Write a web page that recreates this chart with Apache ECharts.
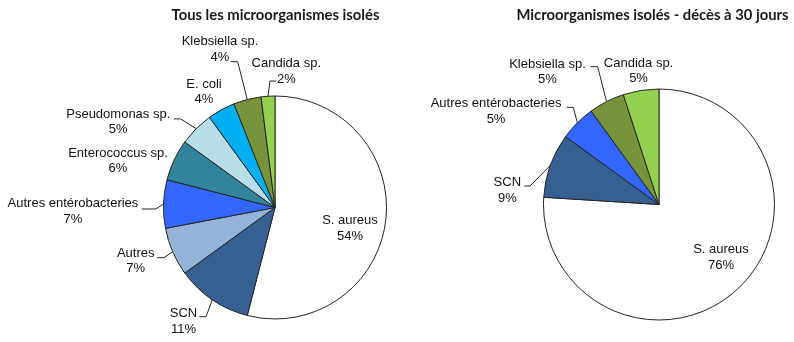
<!DOCTYPE html>
<html>
<head>
<meta charset="utf-8">
<script src="https://cdn.jsdelivr.net/npm/echarts@6/dist/echarts.min.js"></script>
<style>
  html, body { margin: 0; padding: 0; background: #ffffff; }
  #chart { width: 794px; height: 342px; }
</style>
</head>
<body>
<div id="chart"></div>
<script>
// Tous les microorganismes isolés (%)
const allNames = ['S. aureus', 'SCN', 'Autres', 'Autres entérobacteries', 'Enterococcus sp.',
                  'Pseudomonas sp.', 'E. coli', 'Klebsiella sp.', 'Candida sp.'];
const allValues = [54, 11, 7, 7, 6, 5, 4, 4, 2];
const allColors = ['#FFFFFF', '#376092', '#95B3D7', '#3366FF', '#31849B',
                   '#B7DEE8', '#00B0F0', '#77933C', '#92D050'];

// Microorganismes isolés - décès à 30 jours (%)
const deathNames = ['S. aureus', 'SCN', 'Autres entérobacteries', 'Klebsiella sp.', 'Candida sp.'];
const deathValues = [76, 9, 5, 5, 5];
const deathColors = ['#FFFFFF', '#376092', '#3366FF', '#77933C', '#92D050'];

const titleLeft = 'Tous les microorganismes isolés';
const titleRight = 'Microorganismes isolés - décès à 30 jours';

// Label placement, measured from the outer mid-arc point of each slice:
// box = label centre offset, end = leader end offset, elbow = horizontal stub length.
const allPlacement = [
  { inside: [16.7, 13.8] },
  { box: [-28.8, 21.5], end: [-13, 17], elbow: 6.7 },
  { box: [-37, 9], end: [-15.4, 5.9], elbow: 6.7 },
  { box: [-90.6, 7.2], end: [-21.9, 5], elbow: 14 },
  { box: [-56.1, 0.8] },
  { box: [-77.9, -6.9], end: [-22.2, -9.7], elbow: 6.7 },
  { box: [-17.3, -18.1] },
  { box: [-27.3, -50], end: [-16.6, -37.8], elbow: 7 },
  { box: [18.3, -24.9], end: [8, -15.2], elbow: 6 }
];
const deathPlacement = [
  { inside: [20.4, 8.7] },
  { box: [-43, 24.8], end: [-26, 20.6], elbow: 5.7 },
  { box: [-81.3, -11.6], end: [-10.6, -15.5], elbow: 6.6 },
  { box: [-59.1, -29.9], end: [-15.9, -34.9], elbow: 7 },
  { box: [-2.4, -19.6] }
];

const labelFont = 'Liberation Sans, Arial, sans-serif';

function labelPlacer(placement) {
  return function (p) {
    const cfg = placement[p.dataIndex];
    const r = p.labelRect;
    if (cfg.inside) {
      return {
        x: r.x + r.width / 2 + cfg.inside[0],
        y: r.y + r.height / 2 + cfg.inside[1],
        align: 'center', verticalAlign: 'middle'
      };
    }
    const a = p.labelLinePoints[0];
    const out = {
      x: a[0] + cfg.box[0],
      y: a[1] + cfg.box[1],
      align: 'center', verticalAlign: 'middle'
    };
    if (cfg.end) {
      const ex = a[0] + cfg.end[0];
      const ey = a[1] + cfg.end[1];
      const kx = ex + (a[0] > ex ? cfg.elbow : -cfg.elbow);
      out.labelLinePoints = [[a[0], a[1]], [kx, ey], [ex, ey]];
    } else {
      out.labelLinePoints = [[a[0], a[1]], [a[0], a[1]], [a[0], a[1]]];
    }
    return out;
  };
}

function pieSeries(names, values, colors, center, radius, placement) {
  return {
    type: 'pie',
    center: center,
    radius: radius,
    startAngle: 90,
    clockwise: true,
    avoidLabelOverlap: false,
    silent: true,
    itemStyle: { borderColor: '#262626', borderWidth: 1 },
    label: {
      show: true,
      position: 'outside',
      formatter: function (p) { return p.name + '\n' + p.value + '%'; },
      fontFamily: labelFont,
      fontSize: 13,
      lineHeight: 15.5,
      color: '#111111'
    },
    labelLine: {
      show: true,
      length: 10,
      length2: 6,
      smooth: false,
      lineStyle: { color: '#262626', width: 1 }
    },
    labelLayout: labelPlacer(placement),
    data: names.map(function (n, i) {
      const item = { name: n, value: values[i], itemStyle: { color: colors[i] } };
      if (placement[i].inside) {
        item.label = { position: 'inside' };
        item.labelLine = { show: false };
      }
      return item;
    })
  };
}

const titleStyle = {
  fill: '#1a1a1a',
  fontFamily: 'Lato, sans-serif', fontWeight: 'bold', fontSize: 14.8,
  align: 'center', verticalAlign: 'middle',
  textAlign: 'center', textVerticalAlign: 'middle'
};

const chart = echarts.init(document.getElementById('chart'), null, { renderer: 'canvas' });
chart.setOption({
  animation: false,
  backgroundColor: '#ffffff',
  graphic: [
    { type: 'text', x: 275.5, y: 15, style: Object.assign({ text: titleLeft }, titleStyle) },
    { type: 'text', x: 652.5, y: 15, style: Object.assign({ text: titleRight }, titleStyle) }
  ],
  series: [
    pieSeries(allNames, allValues, allColors, [275, 207.5], 111.5, allPlacement),
    pieSeries(deathNames, deathValues, deathColors, [659, 204.5], 115.5, deathPlacement)
  ]
});
</script>
</body>
</html>
